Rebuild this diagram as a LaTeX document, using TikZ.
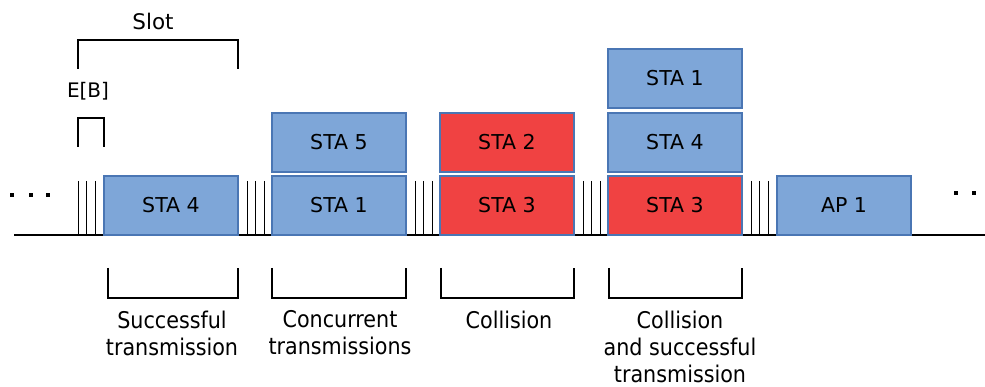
\documentclass[tikz,border=0pt]{standalone}
\usepackage{fontspec}
\setmainfont{DejaVu Sans}
\newfontfamily\condfont{DejaVu Sans Condensed}
\definecolor{framefill}{HTML}{7EA6D8}
\definecolor{clashfill}{HTML}{F04242}
\definecolor{frameedge}{HTML}{4A76B4}

\begin{document}
\begin{tikzpicture}[x=1pt,y=-1pt,
  frame/.style={draw=frameedge, line width=1.2pt, minimum width=134pt,
    minimum height=59pt, inner sep=0pt, font=\fontsize{20.5}{24}\selectfont},
  okframe/.style={frame, fill=framefill},
  badframe/.style={frame, fill=clashfill},
  backoff/.style={line width=1pt},
  bracket/.style={line width=1.4pt},
  caption/.style={font=\condfont\fontsize{23}{27}\selectfont, align=center,
    anchor=north, inner sep=0pt},
  toplabel/.style={inner sep=0pt}]
\useasboundingbox (0,0) rectangle (985,387);

% time axis
\draw[line width=1.5pt] (14,235) -- (985,235);

% backoff slots between frames
\foreach \x in {78,86.5,95, 238.5,247,255.5,264, 406.5,415,423.5,432,
                574.5,583,591.5,600, 742.5,751,759.5,768}
  \draw[backoff] (\x,181) -- (\x,235);

% continuation dots
\foreach \x in {12,31,48} \fill (\x-2,193) rectangle (\x+2,197);
\foreach \x in {956,974} \fill (\x-2,191) rectangle (\x+2,195);

% frames
\node[okframe]  (s4)  at (171,205.5) {STA 4};
\node[okframe]  (s1)  at (339,205.5) {STA 1};
\node[okframe]  (s5)  at (339,142.5) {STA 5};
\node[badframe] (s3a) at (507,205.5) {STA 3};
\node[badframe] (s2)  at (507,142.5) {STA 2};
\node[badframe] (s3b) at (675,205.5) {STA 3};
\node[okframe]  (s4b) at (675,142.5) {STA 4};
\node[okframe]  (s1b) at (675,78.5)  {STA 1};
\node[okframe]  (ap)  at (844,205.5) {AP 1};

% slot and backoff duration markers
\draw[bracket] (78,69) -- (78,40) -- (238,40) -- (238,69);
\node[toplabel, font=\fontsize{21.5}{24}\selectfont] (slot) at (153,21) {Slot};
\draw[bracket] (78,147) -- (78,118) -- (104,118) -- (104,147);
\node[toplabel, font=\fontsize{20}{24}\selectfont] (eb) at (88,91) {E[B]};

% event brackets
\draw[bracket] (108,268) -- (108,298) -- (238,298) -- (238,268);
\draw[bracket] (272,268) -- (272,298) -- (406,298) -- (406,268);
\draw[bracket] (441,268) -- (441,298) -- (574,298) -- (574,268);
\draw[bracket] (609,268) -- (609,298) -- (742,298) -- (742,268);

\node[caption] (c1) at (172,310.5) {Successful\\transmission};
\node[caption] (c2) at (340,310.5) {Concurrent\\transmissions};
\node[caption] (c3) at (509,310.5) {Collision};
\node[caption] (c4) at (680,310.5) {Collision\\and successful\\transmission};
\end{tikzpicture}
\end{document}
